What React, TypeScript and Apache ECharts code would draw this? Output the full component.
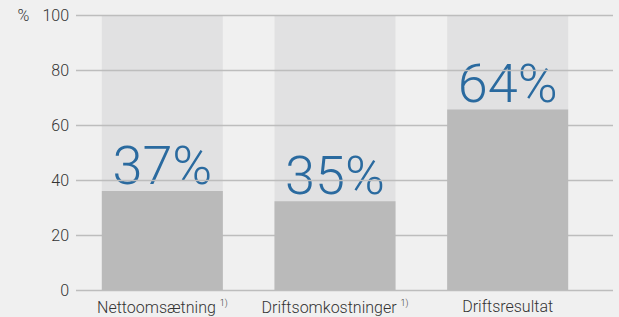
import React, { useEffect, useRef } from "react";
import * as echarts from "echarts";

const categories = ["Nettoomsætning", "Driftsomkostninger", "Driftsresultat"];
const footnotes = ["1)", "1)", ""];
const barValues = [36, 32.3, 65.6];
const percentLabels = ["37%", "35%", "64%"];
const backgroundValues = [100, 100, 100];
const yTicks = { min: 0, max: 100, interval: 20 };
const unitLabel = "%";

export default function App() {
  const ref = useRef<HTMLDivElement>(null);
  useEffect(() => {
    if (!ref.current) return;
    const chart = echarts.init(ref.current, null, { renderer: "svg" });
    const font = "Roboto, 'Liberation Sans', sans-serif";
    chart.setOption({
      animation: false,
      backgroundColor: "#f0f0f0",
      textStyle: { fontFamily: font },
      grid: [
        { left: 76, right: 6, top: 15, bottom: 27 },
        { left: 76, right: 25, top: 15, bottom: 27 },
      ],
      xAxis: [
        { type: "category", gridIndex: 0, data: categories, show: false },
        {
          type: "category",
          gridIndex: 1,
          data: categories,
          axisLine: { show: false },
          axisTick: { show: false },
          axisLabel: {
            interval: 0,
            hideOverlap: false,
            margin: 8,
            color: "#333",
            fontSize: 16,
            fontWeight: 300,
            formatter: (v: string, i: number) =>
              footnotes[i] ? `{a|${v}} {s|${footnotes[i]}}` : `{a|${v}}`,
            rich: {
              a: { fontSize: 16, color: "#333", fontWeight: 300, fontFamily: font },
              s: { fontSize: 9, color: "#333", fontFamily: font, padding: [0, 0, 9, 0] },
            },
          },
        },
      ],
      yAxis: [
        {
          type: "value",
          gridIndex: 0,
          ...yTicks,
          z: 1.5,
          axisLine: { show: false },
          axisTick: { show: false },
          axisLabel: {
            color: "#333",
            fontSize: 16,
            fontWeight: 300,
            margin: 7,
            formatter: (v: number) =>
              v === yTicks.max ? `{p|${unitLabel}}{n|${v}}` : `{n|${v}}`,
            rich: {
              p: { fontSize: 16, color: "#333", fontWeight: 300, fontFamily: font, padding: [0, 13, 0, 0] },
              n: { fontSize: 16, color: "#333", fontWeight: 300, fontFamily: font },
            },
          },
          splitLine: { lineStyle: { color: "#bdbdbd", width: 1.4 } },
        },
        {
          type: "value",
          gridIndex: 1,
          ...yTicks,
          show: false,
          splitLine: { show: false },
        },
      ],
      series: [
        {
          type: "bar",
          xAxisIndex: 1,
          yAxisIndex: 1,
          data: backgroundValues,
          barWidth: 121,
          z: 1,
          itemStyle: { color: "#e1e1e2" },
          silent: true,
        },
        {
          type: "bar",
          xAxisIndex: 1,
          yAxisIndex: 1,
          data: barValues,
          barWidth: 121,
          barGap: "-100%",
          z: 1,
          itemStyle: { color: "rgba(0,0,0,0)" },
          label: {
            show: true,
            position: "top",
            distance: -1,
            color: "#2a6a9f",
            fontSize: 54,
            fontWeight: 300,
            fontFamily: font,
            formatter: (p: any) => percentLabels[p.dataIndex],
          },
        },
        {
          type: "bar",
          xAxisIndex: 1,
          yAxisIndex: 1,
          data: barValues,
          barWidth: 121,
          barGap: "-100%",
          z: 3,
          itemStyle: { color: "#bababa" },
        },
      ],
    });
    return () => chart.dispose();
  }, []);
  return (
    <div
      ref={ref}
      style={{ position: "absolute", left: 0, top: 0, width: 619, height: 317 }}
    />
  );
}
